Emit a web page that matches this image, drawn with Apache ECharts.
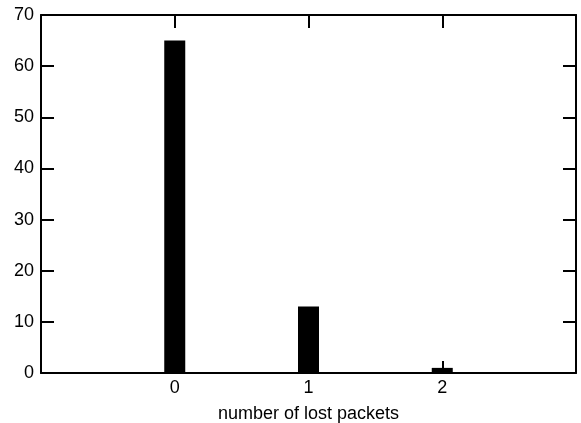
<!DOCTYPE html>
<html>
<head>
<meta charset="utf-8">
<script src="https://cdn.jsdelivr.net/npm/echarts@6/dist/echarts.min.js"></script>
<style>
html,body{margin:0;padding:0;background:#fff;}
#chart{width:581px;height:423px;}
</style>
</head>
<body>
<div id="chart"></div>
<script>
// Packet-loss histogram: how many runs lost 0, 1 or 2 packets
const lostPackets = [0, 1, 2];
const counts = [65, 13, 1];
const yTicks = [0, 10, 20, 30, 40, 50, 60, 70];

const font = 'Liberation Sans, Arial, Helvetica, sans-serif';
const lineStyle = { color: '#000', width: 2 };

const chart = echarts.init(document.getElementById('chart'));
const tickSet = new Set(lostPackets);

chart.setOption({
  animation: false,
  grid: { left: 41, right: 5, top: 15, bottom: 50, containLabel: false, outerBoundsMode: 'none' },
  xAxis: [
    {
      type: 'value', min: -1, max: 3, interval: 1,
      position: 'bottom',
      name: 'number of lost packets', nameLocation: 'middle', nameGap: 32,
      nameTextStyle: { fontFamily: font, fontSize: 18, color: '#000' },
      axisLine: { show: true, onZero: false, lineStyle },
      axisTick: { show: true, inside: true, length: 12, lineStyle },
      axisLabel: {
        fontFamily: font, fontSize: 18, color: '#000', margin: 6,
        formatter: v => tickSet.has(v) ? String(v) : ''
      },
      splitLine: { show: false }
    },
    {
      type: 'value', min: -1, max: 3, interval: 1,
      position: 'top',
      axisLine: { show: true, onZero: false, lineStyle },
      axisTick: { show: true, inside: true, length: 13, lineStyle },
      axisLabel: { show: false },
      splitLine: { show: false }
    }
  ],
  yAxis: [
    {
      type: 'value', min: yTicks[0], max: yTicks[yTicks.length - 1], interval: 10,
      position: 'left',
      axisLine: { show: true, onZero: false, lineStyle },
      axisTick: { show: true, inside: true, length: 13, lineStyle },
      axisLabel: { fontFamily: font, fontSize: 18, color: '#000', margin: 7 },
      splitLine: { show: false }
    },
    {
      type: 'value', min: yTicks[0], max: yTicks[yTicks.length - 1], interval: 10,
      position: 'right',
      axisLine: { show: true, onZero: false, lineStyle },
      axisTick: { show: true, inside: true, length: 13, lineStyle },
      axisLabel: { show: false },
      splitLine: { show: false }
    }
  ],
  series: [{
    type: 'bar',
    xAxisIndex: 0, yAxisIndex: 0,
    barWidth: 21,
    itemStyle: { color: '#000' },
    data: lostPackets.map((x, i) => [x, counts[i]])
  }]
});
</script>
</body>
</html>
